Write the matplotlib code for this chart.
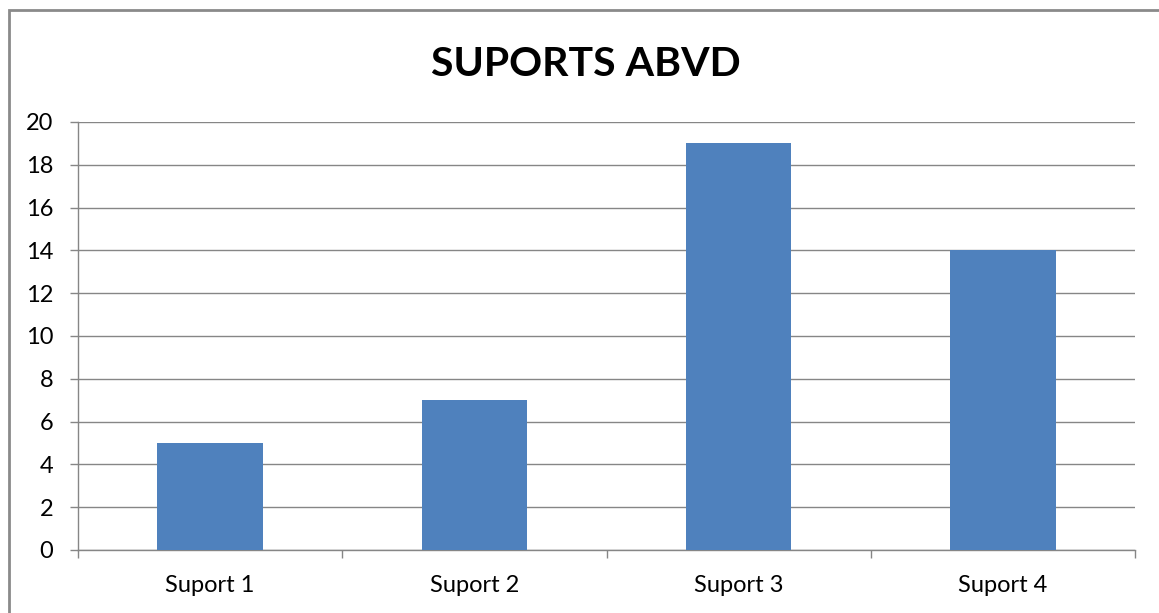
import matplotlib
matplotlib.use("Agg")
import matplotlib.pyplot as plt
from matplotlib.patches import Rectangle

categories = ["Suport 1", "Suport 2", "Suport 3", "Suport 4"]
values = [5, 7, 19, 14]
yticks = [0, 2, 4, 6, 8, 10, 12, 14, 16, 18, 20]
title = "SUPORTS ABVD"

W, H = 1159, 613
fig = plt.figure(figsize=(W / 100, H / 100), dpi=100)
ax = fig.add_axes([78 / W, 1 - 550 / H, (1135 - 78) / W, (550 - 122) / H])

grid_c = "#868686"
x = list(range(len(categories)))
ax.bar(x, values, width=0.4, color="#4F81BD", zorder=3)
ax.set_xlim(-0.5, len(categories) - 0.5)
ax.set_ylim(0, 20)
ax.set_yticks(yticks)
ax.set_yticklabels([str(v) for v in yticks])
ax.set_xticks(x)
ax.set_xticklabels(categories)
ax.set_xticks([i - 0.5 for i in range(len(categories) + 1)], minor=True)

ax.yaxis.grid(True, color=grid_c, linewidth=1.0, zorder=0)
ax.set_axisbelow(True)
for s in ["top", "right"]:
    ax.spines[s].set_visible(False)
for s in ["left", "bottom"]:
    ax.spines[s].set_color(grid_c)
    ax.spines[s].set_linewidth(1.0)

fam = ["Lato", "DejaVu Sans"]
ax.tick_params(axis="y", direction="out", length=5.8, width=1.0, color=grid_c, pad=12,
               labelsize=17, labelcolor="#000000")
ax.tick_params(axis="x", which="major", length=0, pad=18, labelsize=17, labelcolor="#000000")
ax.tick_params(axis="x", which="minor", direction="out", length=5.8, width=1.0, color=grid_c)
for lab in ax.get_xticklabels() + ax.get_yticklabels():
    lab.set_family(fam)

fig.text(586 / W, 1 - 64 / H, title, ha="center", va="center", fontsize=29.5,
         fontweight="bold", family=fam, color="#000000")

fig.patches.append(Rectangle((9 / W, -0.1), 1.2, 1 - 10 / H + 0.1, transform=fig.transFigure,
                             fill=False, edgecolor="#8a8a8a", linewidth=2.0))

fig.savefig("out.png", dpi=100)
